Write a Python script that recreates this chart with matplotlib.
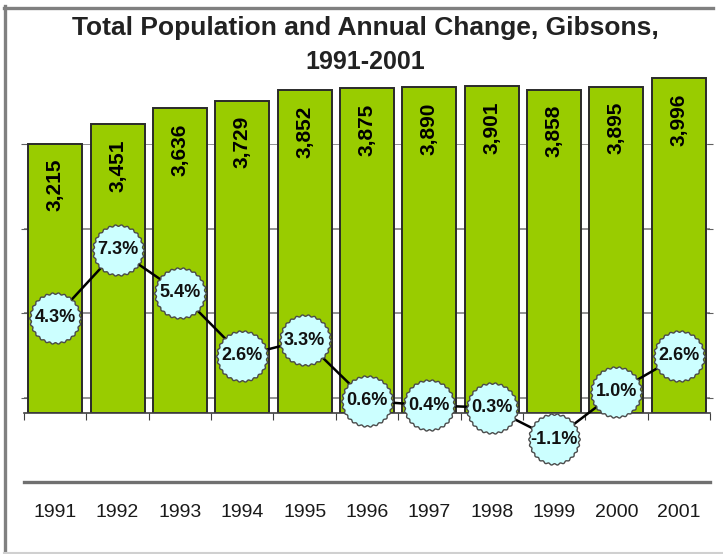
import numpy as np
import matplotlib
matplotlib.use("Agg")
import matplotlib.pyplot as plt
from matplotlib.path import Path
from matplotlib.lines import Line2D

plt.rcParams['font.family'] = ['Liberation Sans', 'DejaVu Sans']

# data
years = ['1991', '1992', '1993', '1994', '1995', '1996', '1997', '1998', '1999', '2000', '2001']
population = [3215, 3451, 3636, 3729, 3852, 3875, 3890, 3901, 3858, 3895, 3996]
change_pct = [4.3, 7.3, 5.4, 2.6, 3.3, 0.6, 0.4, 0.3, -1.1, 1.0, 2.6]

W, H = 723, 554
fig = plt.figure(figsize=(W / 100, H / 100), dpi=100)
fig.patch.set_facecolor('white')


def box(left, top, right, bottom):
    # pixel box (from top-left) -> figure fraction rect
    return [left / W, 1 - bottom / H, (right - left) / W, (bottom - top) / H]


x = np.arange(len(years))
xlim = (-0.5, len(years) - 0.5)

# background axes: gridlines + category axis with year labels
ax_bg = fig.add_axes(box(24, 144, 710, 482))
ax_bg.set_xlim(xlim)
ax_bg.set_ylim(-3, 12)
ax_bg.set_yticks(np.linspace(-3, 12, 5)[1:])
ax_bg.set_yticklabels([])
ax_bg.grid(axis='y', color='#808080', linewidth=1.2)
ax_bg.tick_params(axis='y', direction='inout', length=5, color='#606060',
                  left=True, right=True)
ax_bg.set_xticks(x)
ax_bg.set_xticklabels(years, fontsize=14, color='#1a1a1a')
ax_bg.tick_params(axis='x', length=0, pad=16)
for s in ['top', 'left', 'right']:
    ax_bg.spines[s].set_visible(False)
ax_bg.spines['bottom'].set_color('#707070')
ax_bg.spines['bottom'].set_linewidth(2.4)
ax_bg.set_axisbelow(True)

# bars
ax_bar = fig.add_axes(box(24, 413 - 4100 * 0.0838, 710, 413))
ax_bar.patch.set_alpha(0)
ax_bar.set_xlim(xlim)
ax_bar.set_ylim(0, 4100)
bars = ax_bar.bar(x, population, width=0.865, color='#99CC00',
                  edgecolor='#2a2a2a', linewidth=1.4)
for xi, p in zip(x, population):
    ax_bar.annotate(f'{p:,}', (xi, p), xytext=(0, -11), textcoords='offset points',
                    rotation=90, ha='center', va='top', fontsize=15,
                    fontweight='bold', color='black')
ax_bar.set_yticks([])
ax_bar.set_xticks(np.arange(-0.5, len(years)))
ax_bar.set_xticklabels([])
ax_bar.tick_params(axis='x', direction='out', length=5, color='#404040')
for s in ['top', 'left', 'right']:
    ax_bar.spines[s].set_visible(False)
ax_bar.spines['bottom'].set_color('#404040')
ax_bar.spines['bottom'].set_linewidth(1.2)

# scalloped circle marker
t = np.linspace(0, 2 * np.pi, 361)
r = 1 + 0.03 * np.cos(26 * t)
verts = np.column_stack([r * np.cos(t), r * np.sin(t)])
scallop = Path(verts, closed=True)

ax_line = fig.add_axes(box(24, 144, 710, 482))
ax_line.patch.set_alpha(0)
ax_line.set_xlim(xlim)
ax_line.set_ylim(-3, 12)
ax_line.axis('off')
ax_line.plot(x, change_pct, color='black', linewidth=1.8, marker=scallop,
             markersize=37, markerfacecolor='#CCFFFF', markeredgecolor='#4a4a4a',
             markeredgewidth=1.0, clip_on=False)
for xi, c in zip(x, change_pct):
    ax_line.text(xi, c, f'{c:.1f}%', ha='center', va='center', fontsize=13,
                 fontweight='bold', color='#111111')

# title
fig.text(365 / W, 1 - 28 / H, 'Total Population and Annual Change, Gibsons,',
         ha='center', va='center', fontsize=19, fontweight='bold', color='#222222')
fig.text(365 / W, 1 - 62 / H, '1991-2001',
         ha='center', va='center', fontsize=18, fontweight='bold', color='#222222')

# frame
fig.add_artist(Line2D([4.5 / W, 4.5 / W], [0, 1 - 6 / H], color='#808080', linewidth=2.4))
fig.add_artist(Line2D([3.5 / W, 713 / W], [1 - 7.5 / H, 1 - 7.5 / H], color='#808080', linewidth=2.4))
fig.add_artist(Line2D([4 / W, 1], [1.5 / H, 1.5 / H], color='#d0d0d0', linewidth=1.5))

fig.savefig('out.png', dpi=100)
